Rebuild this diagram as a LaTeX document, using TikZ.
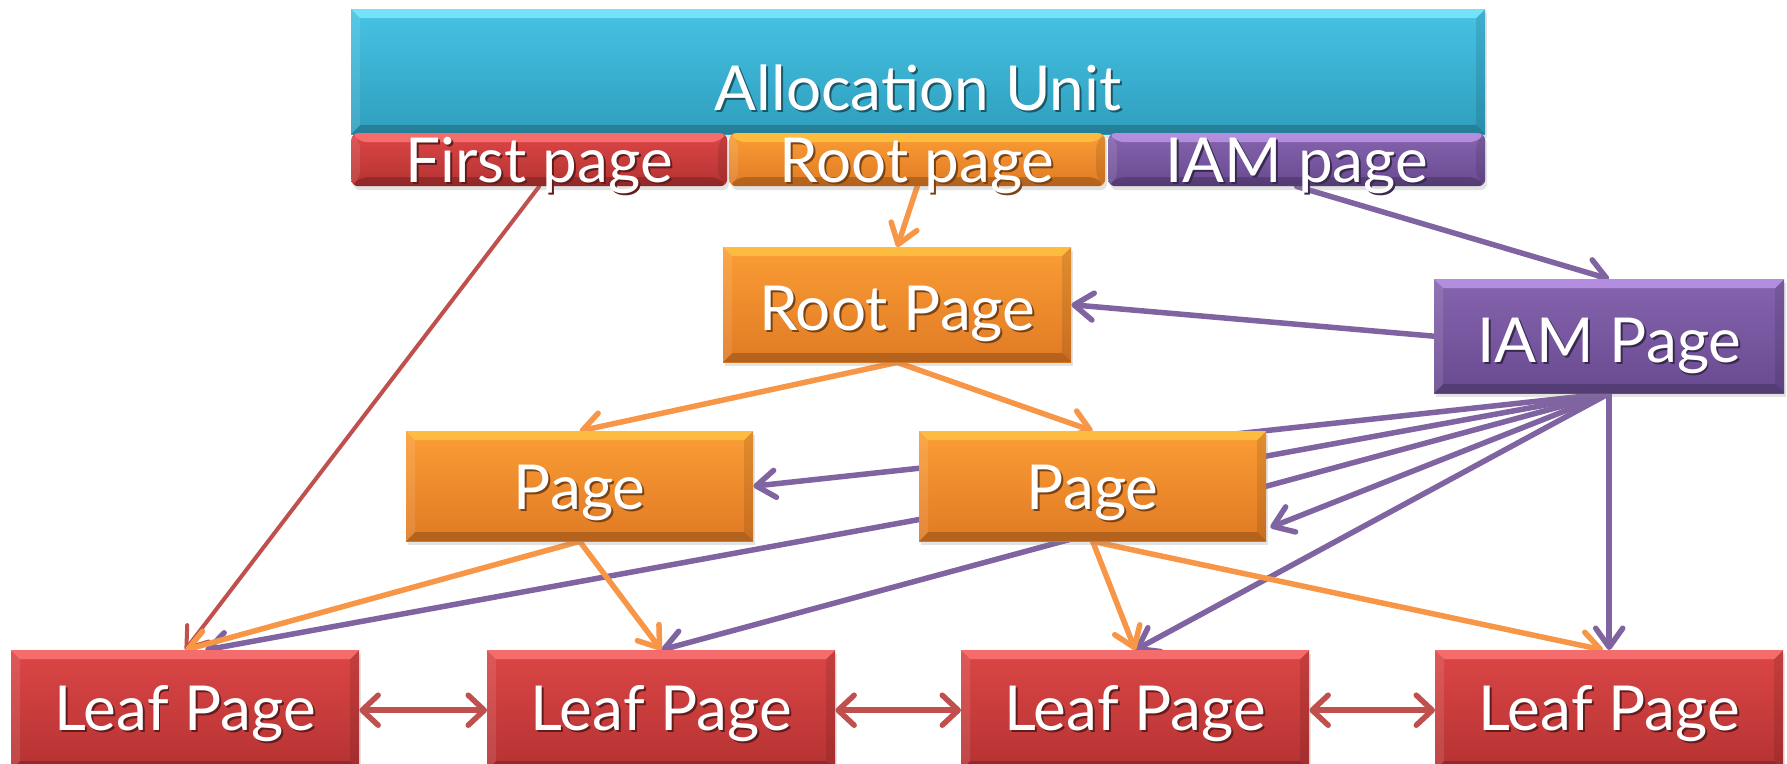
\documentclass[tikz,border=0pt]{standalone}
\usepackage{fontspec}
\setmainfont{Lato}
\usetikzlibrary{arrows.meta,shadows,calc}
\pgfdeclarelayer{bg}
\pgfdeclarelayer{lines}
\pgfsetlayers{bg,lines,main}

\definecolor{lnred}{HTML}{C0504D}
\definecolor{lnorange}{HTML}{F79646}
\definecolor{lnpurple}{HTML}{8064A2}
\definecolor{ortop}{HTML}{FB9D35}
\definecolor{orbot}{HTML}{E07A24}
\definecolor{orbev}{HTML}{FFC845}
\definecolor{rdtop}{HTML}{DC4646}
\definecolor{rdbot}{HTML}{B53232}
\definecolor{rdbev}{HTML}{FF7A7A}
\definecolor{putop}{HTML}{8664AE}
\definecolor{pubot}{HTML}{684A90}
\definecolor{pubev}{HTML}{C39CF0}
\definecolor{cytop}{HTML}{46C3E5}
\definecolor{cybot}{HTML}{2F9EBD}
\definecolor{cybev}{HTML}{84EEFF}

\newcommand\shtxt[1]{\leavevmode\rlap{\kern2pt\raisebox{-2.5pt}{\color{txtsh}#1}}#1}

\tikzset{
  bevcol/.store in=\bevcol, bevcol=white,
  bevelbox/.style={draw=none, inner sep=0pt, text=white,
    font=\fontsize{62}{68}\selectfont,
    drop shadow={shadow xshift=2pt,shadow yshift=-4pt,opacity=0.22},
    path picture={
      \fill[\bevcol,opacity=0.75] (path picture bounding box.north west) -- (path picture bounding box.north east)
        -- ([xshift=-9pt,yshift=-9pt]path picture bounding box.north east) -- ([xshift=9pt,yshift=-9pt]path picture bounding box.north west) -- cycle;
      \fill[white,opacity=0.10] (path picture bounding box.north west) -- ([xshift=9pt,yshift=-9pt]path picture bounding box.north west)
        -- ([xshift=9pt,yshift=9pt]path picture bounding box.south west) -- (path picture bounding box.south west) -- cycle;
      \fill[black,opacity=0.10] (path picture bounding box.north east) -- ([xshift=-9pt,yshift=-9pt]path picture bounding box.north east)
        -- ([xshift=-9pt,yshift=9pt]path picture bounding box.south east) -- (path picture bounding box.south east) -- cycle;
      \fill[black,opacity=0.20] (path picture bounding box.south west) -- (path picture bounding box.south east)
        -- ([xshift=-9pt,yshift=9pt]path picture bounding box.south east) -- ([xshift=9pt,yshift=9pt]path picture bounding box.south west) -- cycle;
    }},
  orbox/.style={bevelbox, bevcol=orbev, top color=ortop, bottom color=orbot, execute at begin node={\colorlet{txtsh}{orbot!55!black}}},
  rdbox/.style={bevelbox, bevcol=rdbev, top color=rdtop, bottom color=rdbot, execute at begin node={\colorlet{txtsh}{rdbot!55!black}}},
  pubox/.style={bevelbox, bevcol=pubev, top color=putop, bottom color=pubot, execute at begin node={\colorlet{txtsh}{pubot!55!black}}},
  cybox/.style={bevelbox, bevcol=cybev, top color=cytop, bottom color=cybot, execute at begin node={\colorlet{txtsh}{cybot!55!black}}},
  subbar/.style={rounded corners=7pt, minimum width=376pt, minimum height=53pt, text height=49pt, text depth=4pt, anchor=north west},
  midbox/.style={minimum width=348pt, anchor=north west},
  leafbox/.style={rdbox, minimum width=348pt, minimum height=120pt, text height=80pt, text depth=40pt, anchor=north west},
  conn/.style={line width=5.5pt, line cap=round, -{Straight Barb[length=19pt,width=27pt,round]}},
  redln/.style={conn, draw=lnred, line width=4pt},
  orln/.style={conn, draw=lnorange},
  puln/.style={conn, draw=lnpurple},
  leafln/.style={draw=lnred, line width=5.5pt, {Straight Barb[length=16pt,width=30pt,round]}-{Straight Barb[length=16pt,width=30pt,round]}},
}

\begin{document}
\begin{tikzpicture}[x=1pt,y=-1pt]
\useasboundingbox (0,0) rectangle (1787,763);
\begin{pgfonlayer}{bg}
\fill[white] (0,0) rectangle (1787,763);
\end{pgfonlayer}

% allocation unit
\node[cybox, anchor=north west, minimum width=1134pt, minimum height=125pt, text height=101pt, text depth=24pt] (au) at (351,9) {\shtxt{Allocation Unit}};
\node[rdbox, subbar] (firstsub) at (351,133) {\shtxt{First page}};
\node[orbox, subbar] (rootsub) at (729,133) {\shtxt{Root page}};
\node[pubox, subbar, minimum width=377pt] (iamsub) at (1108,133) {\shtxt{IAM page}};

% middle
\node[orbox, midbox, minimum height=115pt, text height=83pt, text depth=32pt] (root) at (723,247) {\shtxt{Root Page}};
\node[pubox, midbox, minimum width=350pt, minimum height=114pt, text height=83pt, text depth=31pt] (iam) at (1434,279) {\shtxt{IAM Page}};
\node[orbox, midbox, minimum width=347pt, minimum height=110pt, text height=78pt, text depth=32pt] (pageL) at (406,431) {\shtxt{Page}};
\node[orbox, midbox, minimum width=347pt, minimum height=110pt, text height=78pt, text depth=32pt] (pageR) at (919,431) {\shtxt{Page}};

% leaves
\node[leafbox] (leaf1) at (11,650) {\shtxt{Leaf Page}};
\node[leafbox] (leaf2) at (487,650) {\shtxt{Leaf Page}};
\node[leafbox] (leaf3) at (961,650) {\shtxt{Leaf Page}};
\node[leafbox] (leaf4) at (1435,650) {\shtxt{Leaf Page}};

\begin{pgfonlayer}{lines}
\draw[redln] (firstsub.south) -- (leaf1.north);
\draw[orln] (rootsub.south) -- (root.north);
\draw[puln] (iamsub.south) -- (iam.north);
\draw[puln] (iam.west) -- (root.east);
\draw[orln] (root.south) -- (pageL.north);
\draw[orln] (root.south) -- (pageR.north);
\draw[puln] (iam.south) -- (pageL.east);
\draw[puln] (iam.south) -- ([xshift=20pt]leaf1.north);
\draw[puln] (iam.south) -- (leaf2.north);
\draw[puln] (iam.south) -- ([xshift=4pt,yshift=14pt]pageR.south east);
\draw[puln] (iam.south) -- (leaf3.north);
\draw[puln] (iam.south) -- (leaf4.north);
\draw[orln] (pageL.south) -- (leaf1.north);
\draw[orln] (pageL.south) -- (leaf2.north);
\draw[orln] (pageR.south) -- (leaf3.north);
\draw[orln] (pageR.south) -- ([xshift=-6pt]leaf4.north);
\draw[leafln] (leaf1.east) -- (leaf2.west);
\draw[leafln] (leaf2.east) -- (leaf3.west);
\draw[leafln] (leaf3.east) -- (leaf4.west);
\end{pgfonlayer}
\end{tikzpicture}
\end{document}
